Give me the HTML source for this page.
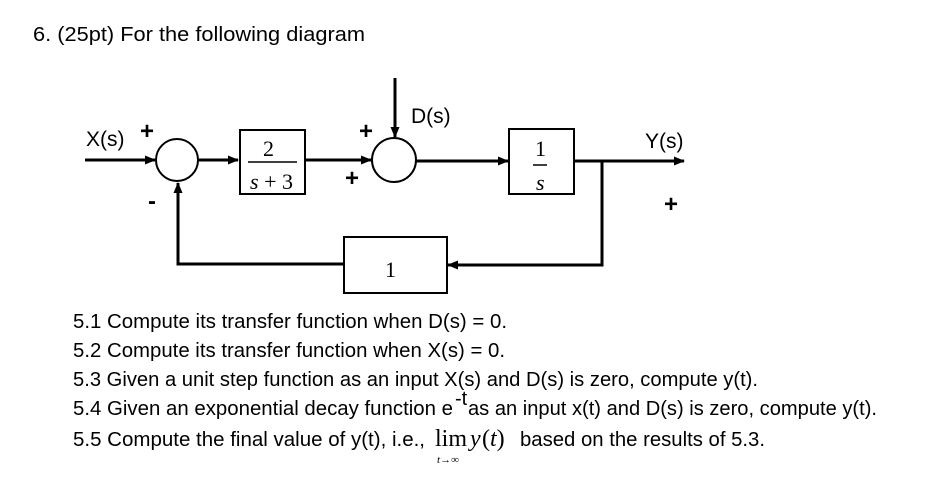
<!DOCTYPE html>
<html><head><meta charset="utf-8"><style>
html,body{margin:0;padding:0;background:#fff;}
svg{display:block;}
.t{font-family:"Liberation Sans",sans-serif;font-size:20px;fill:#000;}
.s{font-family:"Liberation Serif",serif;fill:#000;}
.a{font-family:"Liberation Sans",sans-serif;font-size:21px;fill:#000;}
.p{font-family:"Liberation Sans",sans-serif;font-size:24px;font-weight:bold;fill:#000;}
</style></head><body>
<svg width="926" height="484" viewBox="0 0 926 484" xmlns="http://www.w3.org/2000/svg">
<defs><marker id="ar" markerWidth="11" markerHeight="9" refX="10" refY="4.5" orient="auto" markerUnits="userSpaceOnUse"><path d="M0,0 L11,4.5 L0,9 Z" fill="#000"/></marker></defs>
<text class="t" x="33" y="41" textLength="332" lengthAdjust="spacingAndGlyphs">6.  (25pt) For the following diagram</text>
<g stroke="#000" stroke-width="3" fill="none">
<line x1="85" y1="160" x2="155" y2="160" marker-end="url(#ar)"/>
<circle cx="177" cy="160" r="21" stroke-width="2"/>
<line x1="198" y1="160" x2="238" y2="160" marker-end="url(#ar)"/>
<rect x="240" y="130" width="65" height="64" stroke-width="2"/>
<line x1="305" y1="160" x2="371" y2="160" marker-end="url(#ar)"/>
<circle cx="394" cy="160" r="22" stroke-width="2"/>
<line x1="395" y1="78" x2="395" y2="137" marker-end="url(#ar)"/>
<line x1="416" y1="161" x2="508" y2="161" marker-end="url(#ar)"/>
<rect x="509" y="129" width="65" height="65" stroke-width="2"/>
<line x1="574" y1="161" x2="684" y2="161" marker-end="url(#ar)"/>
<polyline points="602,161 602,265 448,265" marker-end="url(#ar)"/>
<rect x="344" y="237" width="103" height="56" stroke-width="2"/>
<polyline points="344,264 178,264 178,183" marker-end="url(#ar)"/>
<line x1="248" y1="162" x2="297" y2="162" stroke-width="1.5"/>
<line x1="533" y1="165" x2="547" y2="165" stroke-width="1.5"/>
</g>
<text class="a" x="86" y="146">X(s)</text>
<text class="p" x="140" y="139">+</text>
<text class="p" x="148" y="209">-</text>
<text class="p" x="359" y="139">+</text>
<text class="p" x="345" y="186">+</text>
<text class="a" x="411" y="123">D(s)</text>
<text class="a" x="645" y="148">Y(s)</text>
<text class="p" x="664" y="212">+</text>
<text class="s" x="263" y="156" font-size="22">2</text>
<text class="s" x="250" y="189" font-size="22"><tspan font-style="italic">s</tspan> + 3</text>
<text class="s" x="535" y="156" font-size="22">1</text>
<text class="s" x="536" y="190" font-size="22" font-style="italic">s</text>
<text class="s" x="385" y="277" font-size="22">1</text>
<text class="t" x="73" y="328" textLength="434" lengthAdjust="spacingAndGlyphs">5.1 Compute its transfer function when D(s) = 0.</text>
<text class="t" x="73" y="357" textLength="432" lengthAdjust="spacingAndGlyphs">5.2 Compute its transfer function when X(s) = 0.</text>
<text class="t" x="73" y="386" textLength="685" lengthAdjust="spacingAndGlyphs">5.3 Given a unit step function as an input X(s) and D(s) is zero, compute y(t).</text>
<text class="t" x="73" y="415" textLength="380" lengthAdjust="spacingAndGlyphs">5.4 Given an exponential decay function e</text>
<text class="t" x="455" y="405" font-size="13">-t</text>
<text class="t" x="468" y="415" textLength="409" lengthAdjust="spacingAndGlyphs">as an input x(t) and D(s) is zero, compute y(t).</text>
<text class="t" x="73" y="446" textLength="352" lengthAdjust="spacingAndGlyphs">5.5 Compute the final value of y(t), i.e.,</text>
<text class="s" x="435" y="446" font-size="24">lim</text>
<text class="s" x="470" y="446" font-size="24" font-style="italic">y</text>
<text class="s" x="482" y="446" font-size="24">(<tspan font-style="italic">t</tspan>)</text>
<text class="s" x="437" y="463" font-size="11"><tspan font-style="italic">t</tspan>→∞</text>
<text class="t" x="520" y="446" textLength="245" lengthAdjust="spacingAndGlyphs">based on the results of 5.3.</text>
</svg>
</body></html>
